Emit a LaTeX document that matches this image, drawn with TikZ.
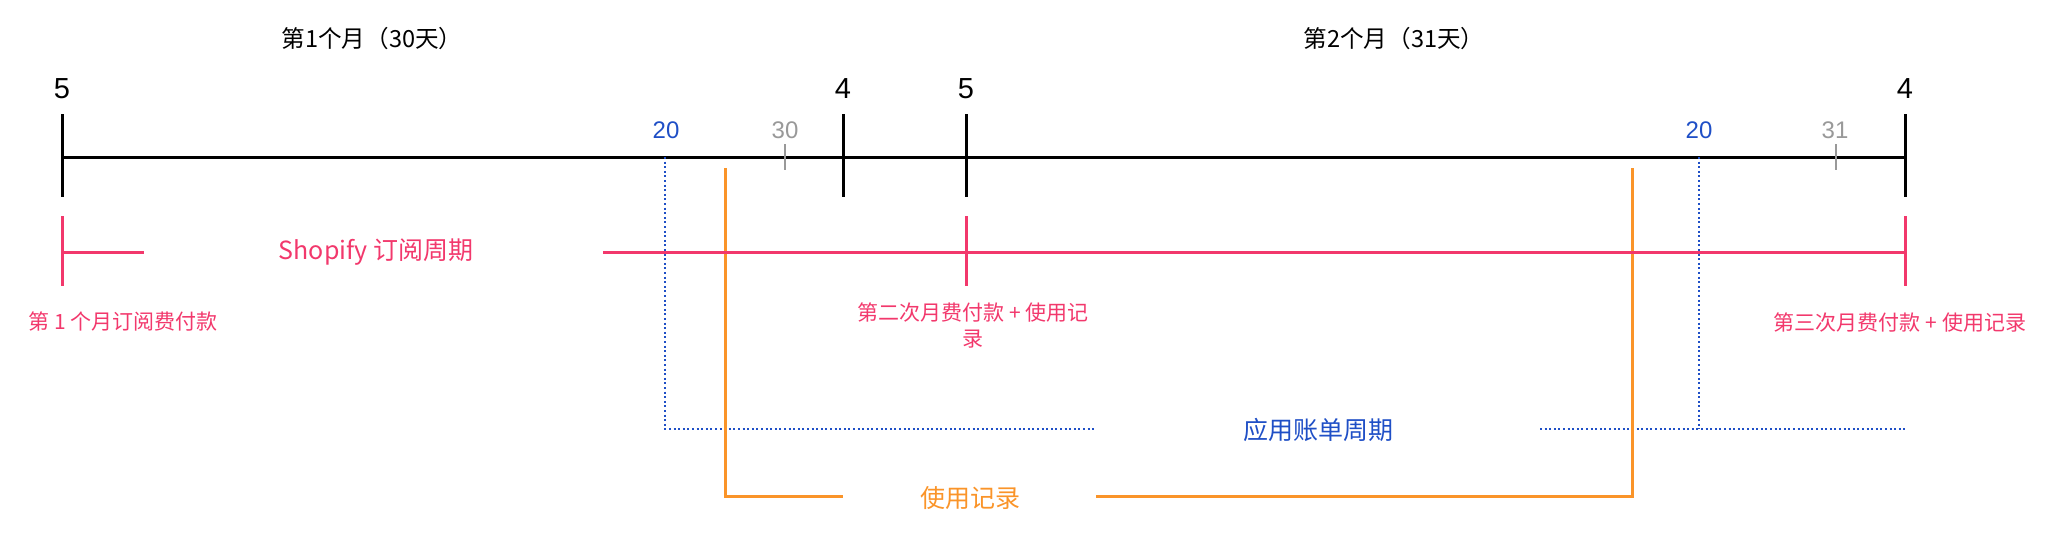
\documentclass[tikz,border=0pt]{standalone}
\usepackage{fontspec}
\setmainfont{Liberation Sans}
\newfontfamily\cjk{Noto Sans CJK SC}
\definecolor{pinkc}{HTML}{F2386C}
\definecolor{bluec}{HTML}{1F4FC6}
\definecolor{orangec}{HTML}{FA9429}
\definecolor{greyc}{HTML}{999999}
\tikzset{
  txt/.style={inner sep=0pt, anchor=center},
  title/.style={txt, font=\cjk\fontsize{11.8}{14}\selectfont},
  bignum/.style={txt, font=\fontsize{14.5}{17}\selectfont},
  smallnum/.style={txt, font=\fontsize{12}{14}\selectfont},
  pinklbl/.style={txt, text=pinkc, align=center, font=\cjk\fontsize{10.5}{13}\selectfont},
  biglbl/.style={txt, font=\cjk\fontsize{12.5}{15}\selectfont},
  axis/.style={line width=1.5pt, black},
  bigtick/.style={line width=1.5pt, black},
  greytick/.style={line width=1pt, greyc},
  pinkline/.style={line width=1.5pt, pinkc},
  blueline/.style={line width=1pt, bluec, dash pattern=on 1pt off 1.3pt},
  orangeline/.style={line width=1.5pt, orangec},
}
\begin{document}
\begin{tikzpicture}[x=0.5pt,y=-0.5pt]
\useasboundingbox (0,0) rectangle (2056,536);
% titles
\node[title] (t1) at (372,39) {第1个月（30天）};
\node[title] (t2) at (1394,39) {第2个月（31天）};
% main axis
\coordinate (axL) at (62,157);
\coordinate (axR) at (1905,157);
\draw[axis] (axL) -- (axR);
% big ticks
\foreach \n/\x/\l in {a/62/5, b/843/4, c/966/5, d/1905/4}{
  \coordinate (bt\n top) at (\x,114);
  \coordinate (bt\n bot) at (\x,197);
  \draw[bigtick] (bt\n top) -- (bt\n bot);
  \node[bignum] (num\n) at (\x,89) {\l};
}
% small labels
\node[smallnum, text=bluec] (b20a) at (666,130) {20};
\node[smallnum, text=bluec] (b20b) at (1699,130) {20};
\node[smallnum, text=greyc] (g30) at (785,130) {30};
\node[smallnum, text=greyc] (g31) at (1835,130) {31};
\coordinate (g30t) at (785,144); \coordinate (g30b) at (785,170);
\coordinate (g31t) at (1836,144); \coordinate (g31b) at (1836,170);
\draw[greytick] (g30t) -- (g30b);
\draw[greytick] (g31t) -- (g31b);
% blue billing cycle
\coordinate (bl1t) at (665,157); \coordinate (bl1b) at (665,429);
\coordinate (bl2t) at (1699,157); \coordinate (bl2b) at (1699,429);
\coordinate (blm1) at (1096,429); \coordinate (blm2) at (1540,429);
\coordinate (blend) at (1905,429);
\node[biglbl, text=bluec] (appcycle) at (1318,430) {应用账单周期};
\draw[blueline] (bl1t) -- (bl1b) -- (blm1);
\draw[blueline] (blm2) -- (blend);
\draw[blueline] (bl2t) -- (bl2b);
% orange usage records
\coordinate (or1t) at (725,168); \coordinate (or1b) at (725,496);
\coordinate (or2t) at (1632,168); \coordinate (or2b) at (1632,496);
\coordinate (orm1) at (843,496); \coordinate (orm2) at (1096,496);
\node[biglbl, text=orangec] (usage) at (970,498) {使用记录};
\draw[orangeline] (or1t) -- (or1b) -- (orm1);
\draw[orangeline] (orm2) -- (or2b) -- (or2t);
% pink subscription cycle
\foreach \n/\x in {a/62, b/966, c/1905}{
  \coordinate (pt\n top) at (\x,216);
  \coordinate (pt\n bot) at (\x,286);
  \draw[pinkline] (pt\n top) -- (pt\n bot);
}
\coordinate (pl0) at (62,252); \coordinate (pl1) at (144,252);
\coordinate (pl2) at (603,252); \coordinate (pl3) at (1905,252);
\draw[pinkline] (pl0) -- (pl1);
\draw[pinkline] (pl2) -- (pl3);
\node[biglbl, text=pinkc] (shop) at (376,252) {Shopify 订阅周期};
\node[pinklbl] (p1) at (123,321) {第 1 个月订阅费付款};
\node[pinklbl] (p2) at (973,325) {第二次月费付款 + 使用记\\录};
\node[pinklbl] (p3) at (1900,323) {第三次月费付款 + 使用记录};
\end{tikzpicture}
\end{document}
